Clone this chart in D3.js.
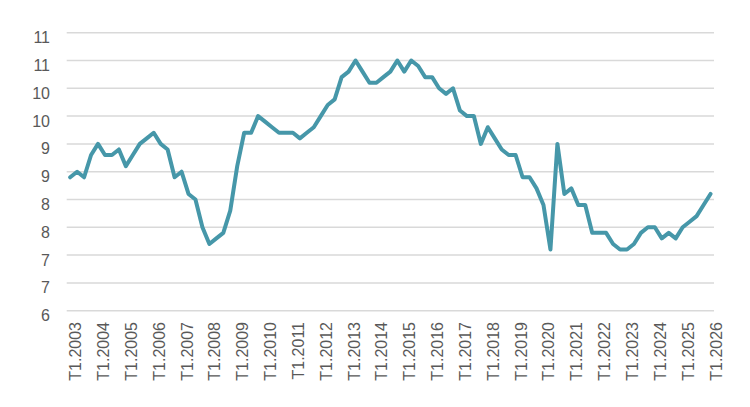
<!DOCTYPE html>
<html>
<head>
<meta charset="utf-8">
<script src="https://cdn.jsdelivr.net/npm/d3@7"></script>
<style>
    body { margin: 0; background: #fff; }
    text { font-family: "Liberation Sans", Arial, sans-serif; }
</style>
</head>
<body>
<div id="chart"></div>
<script>
// quarterly series, T1.2003 .. T1.2026
const years = d3.range(2003, 2027);
const quarters = ["T1", "T2", "T3", "T4"];
const values = [
    8.4, 8.5, 8.4, 8.8, 9.0, 8.8, 8.8, 8.9, 8.6, 8.8,
    9.0, 9.1, 9.2, 9.0, 8.9, 8.4, 8.5, 8.1, 8.0, 7.5,
    7.2, 7.3, 7.4, 7.8, 8.6, 9.2, 9.2, 9.5, 9.4, 9.3,
    9.2, 9.2, 9.2, 9.1, 9.2, 9.3, 9.5, 9.7, 9.8, 10.2,
    10.3, 10.5, 10.3, 10.1, 10.1, 10.2, 10.3, 10.5, 10.3, 10.5,
    10.4, 10.2, 10.2, 10.0, 9.9, 10.0, 9.6, 9.5, 9.5, 9.0,
    9.3, 9.1, 8.9, 8.8, 8.8, 8.4, 8.4, 8.2, 7.9, 7.1,
    9.0, 8.1, 8.2, 7.9, 7.9, 7.4, 7.4, 7.4, 7.2, 7.1,
    7.1, 7.2, 7.4, 7.5, 7.5, 7.3, 7.4, 7.3, 7.5, 7.6,
    7.7, 7.9, 8.1
];
const yTicks = [6, 6.5, 7, 7.5, 8, 8.5, 9, 9.5, 10, 10.5, 11];

// category labels, one per quarter
let categories = [];
years.forEach(function (y) {
    quarters.forEach(function (q) { categories.push(q + "." + y); });
});
categories = categories.slice(0, values.length);

const width = 750, height = 407;
const plot = { left: 66.7, right: 714, top: 32.7, bottom: 310.7 };

const svg = d3.select("#chart")
    .append("svg")
    .attr("width", width)
    .attr("height", height);

const x = d3.scaleBand()
    .domain(categories)
    .range([plot.left, plot.right]);

const y = d3.scaleLinear()
    .domain([6, 11])
    .range([plot.bottom, plot.top]);

// gridlines
svg.append("g")
    .selectAll("line")
    .data(yTicks)
    .join("line")
    .attr("x1", plot.left)
    .attr("x2", plot.right)
    .attr("y1", d => y(d))
    .attr("y2", d => y(d))
    .style("stroke", "#d9d9d9")
    .style("stroke-width", 1.5);

// y labels (rounded like the original)
svg.append("g")
    .selectAll("text")
    .data(yTicks)
    .join("text")
    .attr("x", 50)
    .attr("y", d => y(d) + 5)
    .attr("text-anchor", "end")
    .attr("dominant-baseline", "central")
    .style("font-size", "16px")
    .style("fill", "#595959")
    .text(d => Math.round(d));

// x labels: only first quarter of each year
svg.append("g")
    .selectAll("text")
    .data(categories.filter(c => c.startsWith("T1")))
    .join("text")
    .attr("transform", d => `translate(${x(d) + x.bandwidth() / 2 + 5.5},322) rotate(-90)`)
    .attr("text-anchor", "end")
    .attr("dominant-baseline", "central")
    .style("font-size", "16px")
    .style("fill", "#595959")
    .text(d => d);

// the line
const line = d3.line()
    .x((d, i) => x(categories[i]) + x.bandwidth() / 2)
    .y(d => y(d));

svg.append("path")
    .datum(values)
    .attr("d", line)
    .style("fill", "none")
    .style("stroke", "#4697a9")
    .style("stroke-width", 4)
    .style("stroke-linejoin", "round")
    .style("stroke-linecap", "round");
</script>
</body>
</html>
